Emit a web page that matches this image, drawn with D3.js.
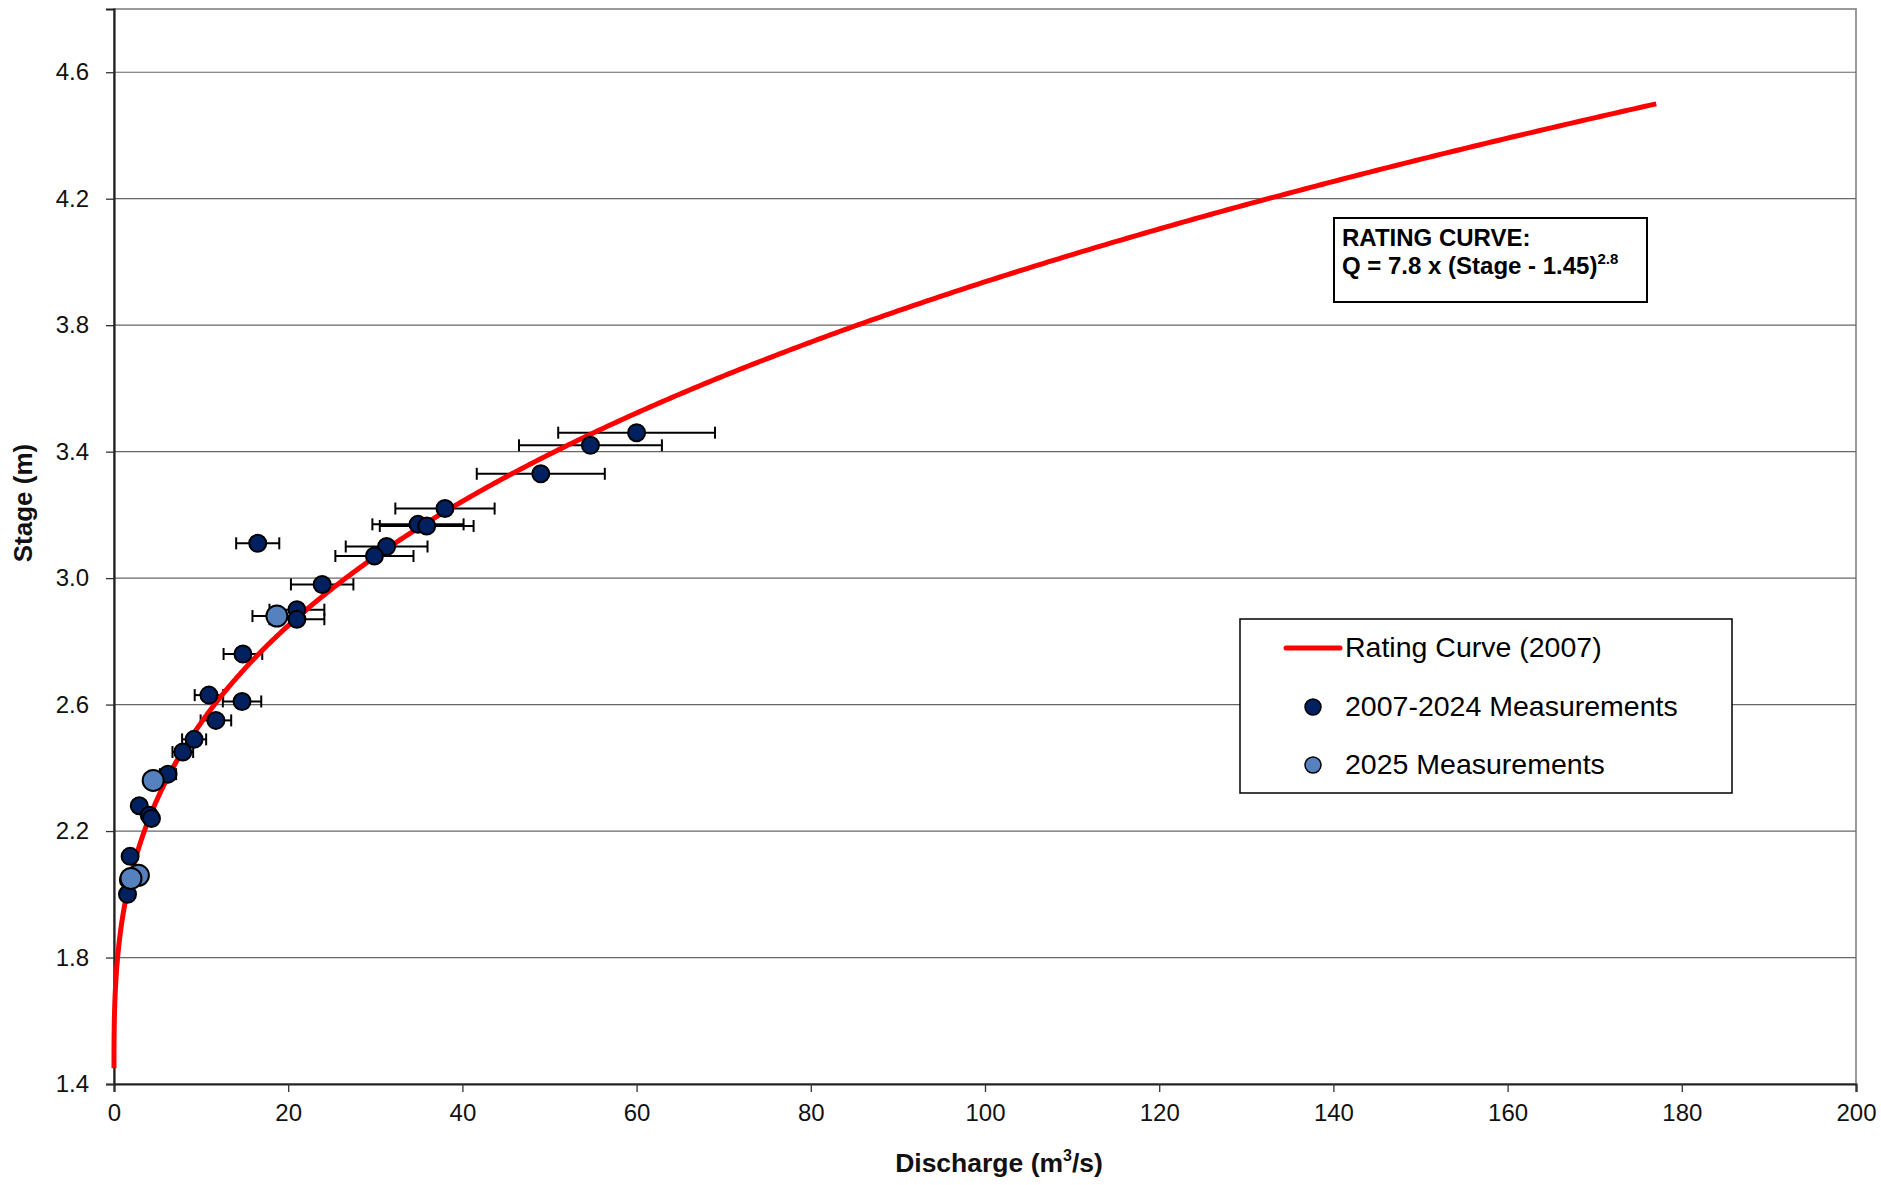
<!DOCTYPE html>
<html>
<head>
<meta charset="utf-8">
<script src="https://cdn.jsdelivr.net/npm/d3@7"></script>
<style>
  html, body { margin: 0; padding: 0; background: #fff; }
  svg { display: block; font-family: "Liberation Sans", Arial, sans-serif; }
</style>
</head>
<body>
<svg id="chart" width="1881" height="1185"></svg>
<script>
// Rating curve parameters: Q = a x (Stage - h0)^b
const curveCoef = 7.8;
const curveOffset = 1.45;
const curveExp = 2.8;
const curveStageMax = 4.5;

// Field measurements 2007-2024: discharge (m3/s) and stage (m)
const histQ     = [60.0, 54.7, 49.0, 38.0, 34.9, 35.9, 31.3, 29.9, 16.5, 23.9, 21.0, 21.0, 14.8,
                   10.9, 14.7, 11.7, 9.2, 7.9, 6.2, 2.9, 4.05, 4.3, 1.85, 1.65, 1.55];
const histStage = [3.46, 3.42, 3.33, 3.22, 3.17, 3.165, 3.10, 3.07, 3.11, 2.98, 2.90, 2.87, 2.76,
                   2.63, 2.61, 2.55, 2.49, 2.45, 2.38, 2.28, 2.25, 2.24, 2.12, 2.045, 2.00];

// Field measurements 2025
const newQ     = [18.7, 4.5, 2.8, 1.95];
const newStage = [2.88, 2.36, 2.06, 2.05];

// Relative measurement uncertainty shown as horizontal error bars
const errFraction = 0.15;

// Axis ticks
const xTicks = [0, 20, 40, 60, 80, 100, 120, 140, 160, 180, 200];
const yTicks = [1.4, 1.8, 2.2, 2.6, 3.0, 3.4, 3.8, 4.2, 4.6];

const legendLabels = ["Rating Curve (2007)", "2007-2024 Measurements", "2025 Measurements"];

const svg = d3.select("#chart");
const plot = { left: 114, right: 1856, top: 9, bottom: 1084 };

const x = d3.scaleLinear().domain([0, 200]).range([plot.left, plot.right]);
const y = d3.scaleLinear().domain([1.4, 4.8]).range([plot.bottom, plot.top]);

const darkBlue = "#002060";
const lightBlue = "#5581be";

// Plot frame (top / right) and horizontal gridlines
svg.append("rect")
  .attr("x", plot.left).attr("y", plot.top)
  .attr("width", plot.right - plot.left).attr("height", plot.bottom - plot.top)
  .attr("fill", "none").attr("stroke", "#9a9a9a").attr("stroke-width", 2);

svg.append("g").selectAll("line")
  .data(yTicks.filter(t => t > 1.4))
  .join("line")
  .attr("x1", plot.left).attr("x2", plot.right)
  .attr("y1", d => y(d)).attr("y2", d => y(d))
  .attr("stroke", "#666").attr("stroke-width", 1.2);

// Axes
const xAxis = svg.append("g")
  .attr("transform", `translate(0,${plot.bottom})`)
  .call(d3.axisBottom(x).tickValues(xTicks).tickSize(8).tickPadding(12).tickFormat(d3.format("d")));
const yAxis = svg.append("g")
  .attr("transform", `translate(${plot.left},0)`)
  .call(d3.axisLeft(y).tickValues(yTicks).tickSize(8).tickPadding(17).tickFormat(d3.format(".1f")));

[xAxis, yAxis].forEach(g => {
  g.select(".domain").attr("stroke", "#222").attr("stroke-width", 2.2);
  g.selectAll(".tick line").attr("stroke", "#333").attr("stroke-width", 1.3);
  g.selectAll(".tick text").attr("font-size", 24).attr("fill", "#111")
    .attr("font-family", "'Liberation Sans', Arial, sans-serif");
});

// Axis titles
const xTitle = svg.append("text")
  .attr("x", (plot.left + plot.right) / 2 + 14).attr("y", 1172)
  .attr("text-anchor", "middle").attr("font-size", 26.5).attr("font-weight", "bold").attr("fill", "#111");
xTitle.append("tspan").text("Discharge (m");
xTitle.append("tspan").attr("font-size", 16).attr("dy", -11).text("3");
xTitle.append("tspan").attr("dy", 11).text("/s)");

svg.append("text")
  .attr("transform", "translate(32,503) rotate(-90)")
  .attr("text-anchor", "middle").attr("font-size", 26).attr("font-weight", "bold").attr("fill", "#111")
  .text("Stage (m)");

// Points with error bars
const hist = histQ.map((q, i) => ({ q, s: histStage[i] }));
const fresh = newQ.map((q, i) => ({ q, s: newStage[i] }));
const capH = 6;

const errG = svg.append("g").attr("stroke", "#000").attr("stroke-width", 2);
[...hist, fresh[0]].forEach(d => {
  const x0 = x(d.q * (1 - errFraction)), x1 = x(d.q * (1 + errFraction)), yy = y(d.s);
  errG.append("line").attr("x1", x0).attr("x2", x1).attr("y1", yy).attr("y2", yy);
  errG.append("line").attr("x1", x0).attr("x2", x0).attr("y1", yy - capH).attr("y2", yy + capH);
  errG.append("line").attr("x1", x1).attr("x2", x1).attr("y1", yy - capH).attr("y2", yy + capH);
});

// Rating curve evaluated from the stated equation
const stages = d3.range(curveOffset, curveStageMax + 1e-9, 0.005);
const curve = stages.map(s => ({ s, q: curveCoef * Math.pow(s - curveOffset, curveExp) }));
svg.append("path")
  .datum(curve)
  .attr("d", d3.line().x(d => x(d.q)).y(d => y(d.s)))
  .attr("fill", "none").attr("stroke", "#ff0000").attr("stroke-width", 5)
  .attr("stroke-linecap", "butt");

svg.append("g").selectAll("circle")
  .data(hist).join("circle")
  .attr("cx", d => x(d.q)).attr("cy", d => y(d.s)).attr("r", 8.5)
  .attr("fill", darkBlue).attr("stroke", "#000").attr("stroke-width", 2);

svg.append("g").selectAll("circle")
  .data(fresh).join("circle")
  .attr("cx", d => x(d.q)).attr("cy", d => y(d.s)).attr("r", 10.5)
  .attr("fill", lightBlue).attr("stroke", "#000").attr("stroke-width", 2);

// Equation box
svg.append("rect")
  .attr("x", 1334).attr("y", 218).attr("width", 313).attr("height", 84)
  .attr("fill", "#fff").attr("stroke", "#000").attr("stroke-width", 2);
svg.append("text").attr("x", 1342).attr("y", 246)
  .attr("font-size", 24).attr("font-weight", "bold").attr("fill", "#000")
  .text("RATING CURVE:");
const eq = svg.append("text").attr("x", 1342).attr("y", 274)
  .attr("font-size", 24).attr("font-weight", "bold").attr("fill", "#000");
eq.append("tspan").text(`Q = ${curveCoef} x (Stage - ${curveOffset})`);
eq.append("tspan").attr("font-size", 15).attr("dy", -10).text(`${curveExp}`);

// Legend
const lg = svg.append("g");
lg.append("rect")
  .attr("x", 1240).attr("y", 619).attr("width", 492).attr("height", 174)
  .attr("fill", "#fff").attr("stroke", "#000").attr("stroke-width", 1.5);
lg.append("line")
  .attr("x1", 1286).attr("x2", 1340).attr("y1", 648).attr("y2", 648)
  .attr("stroke", "#ff0000").attr("stroke-width", 5).attr("stroke-linecap", "round");
lg.append("circle").attr("cx", 1313).attr("cy", 707).attr("r", 8)
  .attr("fill", darkBlue).attr("stroke", "#000").attr("stroke-width", 1.5);
lg.append("circle").attr("cx", 1313).attr("cy", 765).attr("r", 8)
  .attr("fill", lightBlue).attr("stroke", "#000").attr("stroke-width", 1.5);
[657, 716, 774].forEach((yy, i) => {
  lg.append("text").attr("x", 1345).attr("y", yy)
    .attr("font-size", 28.5).attr("fill", "#000").text(legendLabels[i]);
});
</script>
</body>
</html>
